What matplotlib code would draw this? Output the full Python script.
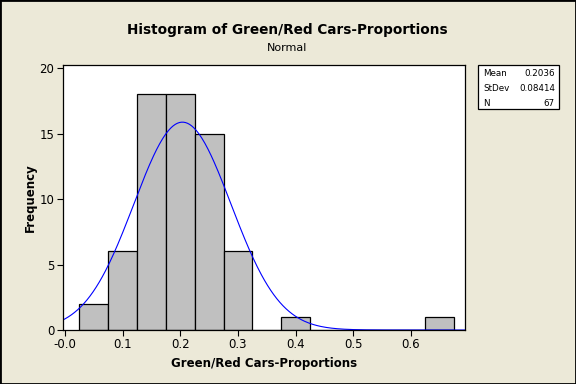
import numpy as np
import matplotlib.pyplot as plt
from matplotlib.patches import Rectangle

# histogram of 67 proportions, bin width 0.05
bin_centers = [0.05, 0.10, 0.15, 0.20, 0.25, 0.30, 0.35, 0.40, 0.45, 0.50, 0.55, 0.60, 0.65]
counts = [2, 6, 18, 18, 15, 6, 0, 1, 0, 0, 0, 0, 1]
bin_width = 0.05
mean = 0.2036
stdev = 0.08414
n = 67

bg = '#ECE9D8'
plt.rcParams['font.family'] = ['DejaVu Sans']

fig = plt.figure(figsize=(5.76, 3.84), dpi=100, facecolor=bg)
fig.patches.append(Rectangle((0, 0), 1, 1, transform=fig.transFigure, fill=False,
                             edgecolor='black', linewidth=2))
ax = fig.add_axes([62.5 / 576, 1 - 330 / 384, (465 - 62.5) / 576, (330 - 65) / 384])
ax.set_facecolor('white')

ax.bar(bin_centers, counts, width=bin_width, color='#C0C0C0', edgecolor='black', linewidth=0.9)

# fitted normal curve scaled to counts
xs = np.linspace(-0.01, 0.7, 400)
ys = n * bin_width * np.exp(-0.5 * ((xs - mean) / stdev) ** 2) / (stdev * np.sqrt(2 * np.pi))
ax.plot(xs, ys, color='#0000FF', linewidth=0.8)

ax.set_xlim(-0.0043, 0.6936)
ax.set_ylim(0, 20.25)
ax.set_xticks([0.0, 0.1, 0.2, 0.3, 0.4, 0.5, 0.6])
ax.set_xticklabels(['-0.0', '0.1', '0.2', '0.3', '0.4', '0.5', '0.6'])
ax.set_yticks([0, 5, 10, 15, 20])
ax.tick_params(direction='out', length=4, width=0.8, labelsize=8.5, pad=2)
for s in ax.spines.values():
    s.set_linewidth(0.9)

ax.set_xlabel('Green/Red Cars-Proportions', fontsize=8.5, fontweight='bold', labelpad=4)
ax.set_ylabel('Frequency', fontsize=8.5, fontweight='bold', labelpad=2)

fig.text(287 / 576, 1 - 30 / 384, 'Histogram of Green/Red Cars-Proportions',
         ha='center', va='center', fontsize=9.8, fontweight='semibold')
fig.text(287 / 576, 1 - 48 / 384, 'Normal', ha='center', va='center', fontsize=8)

# stats box
fig.patches.append(Rectangle((478 / 576, 1 - 109 / 384), 81 / 576, 44 / 384,
                             transform=fig.transFigure, facecolor='white',
                             edgecolor='black', linewidth=0.9))
rows = [('Mean', '0.2036'), ('StDev', '0.08414'), ('N', '67')]
for i, (k, v) in enumerate(rows):
    y = 1 - (74 + i * 14.5) / 384
    fig.text(483 / 576, y, k, ha='left', va='center', fontsize=6.3)
    fig.text(555 / 576, y, v, ha='right', va='center', fontsize=6.3)

fig.savefig('out.png', dpi=100, facecolor=bg)
